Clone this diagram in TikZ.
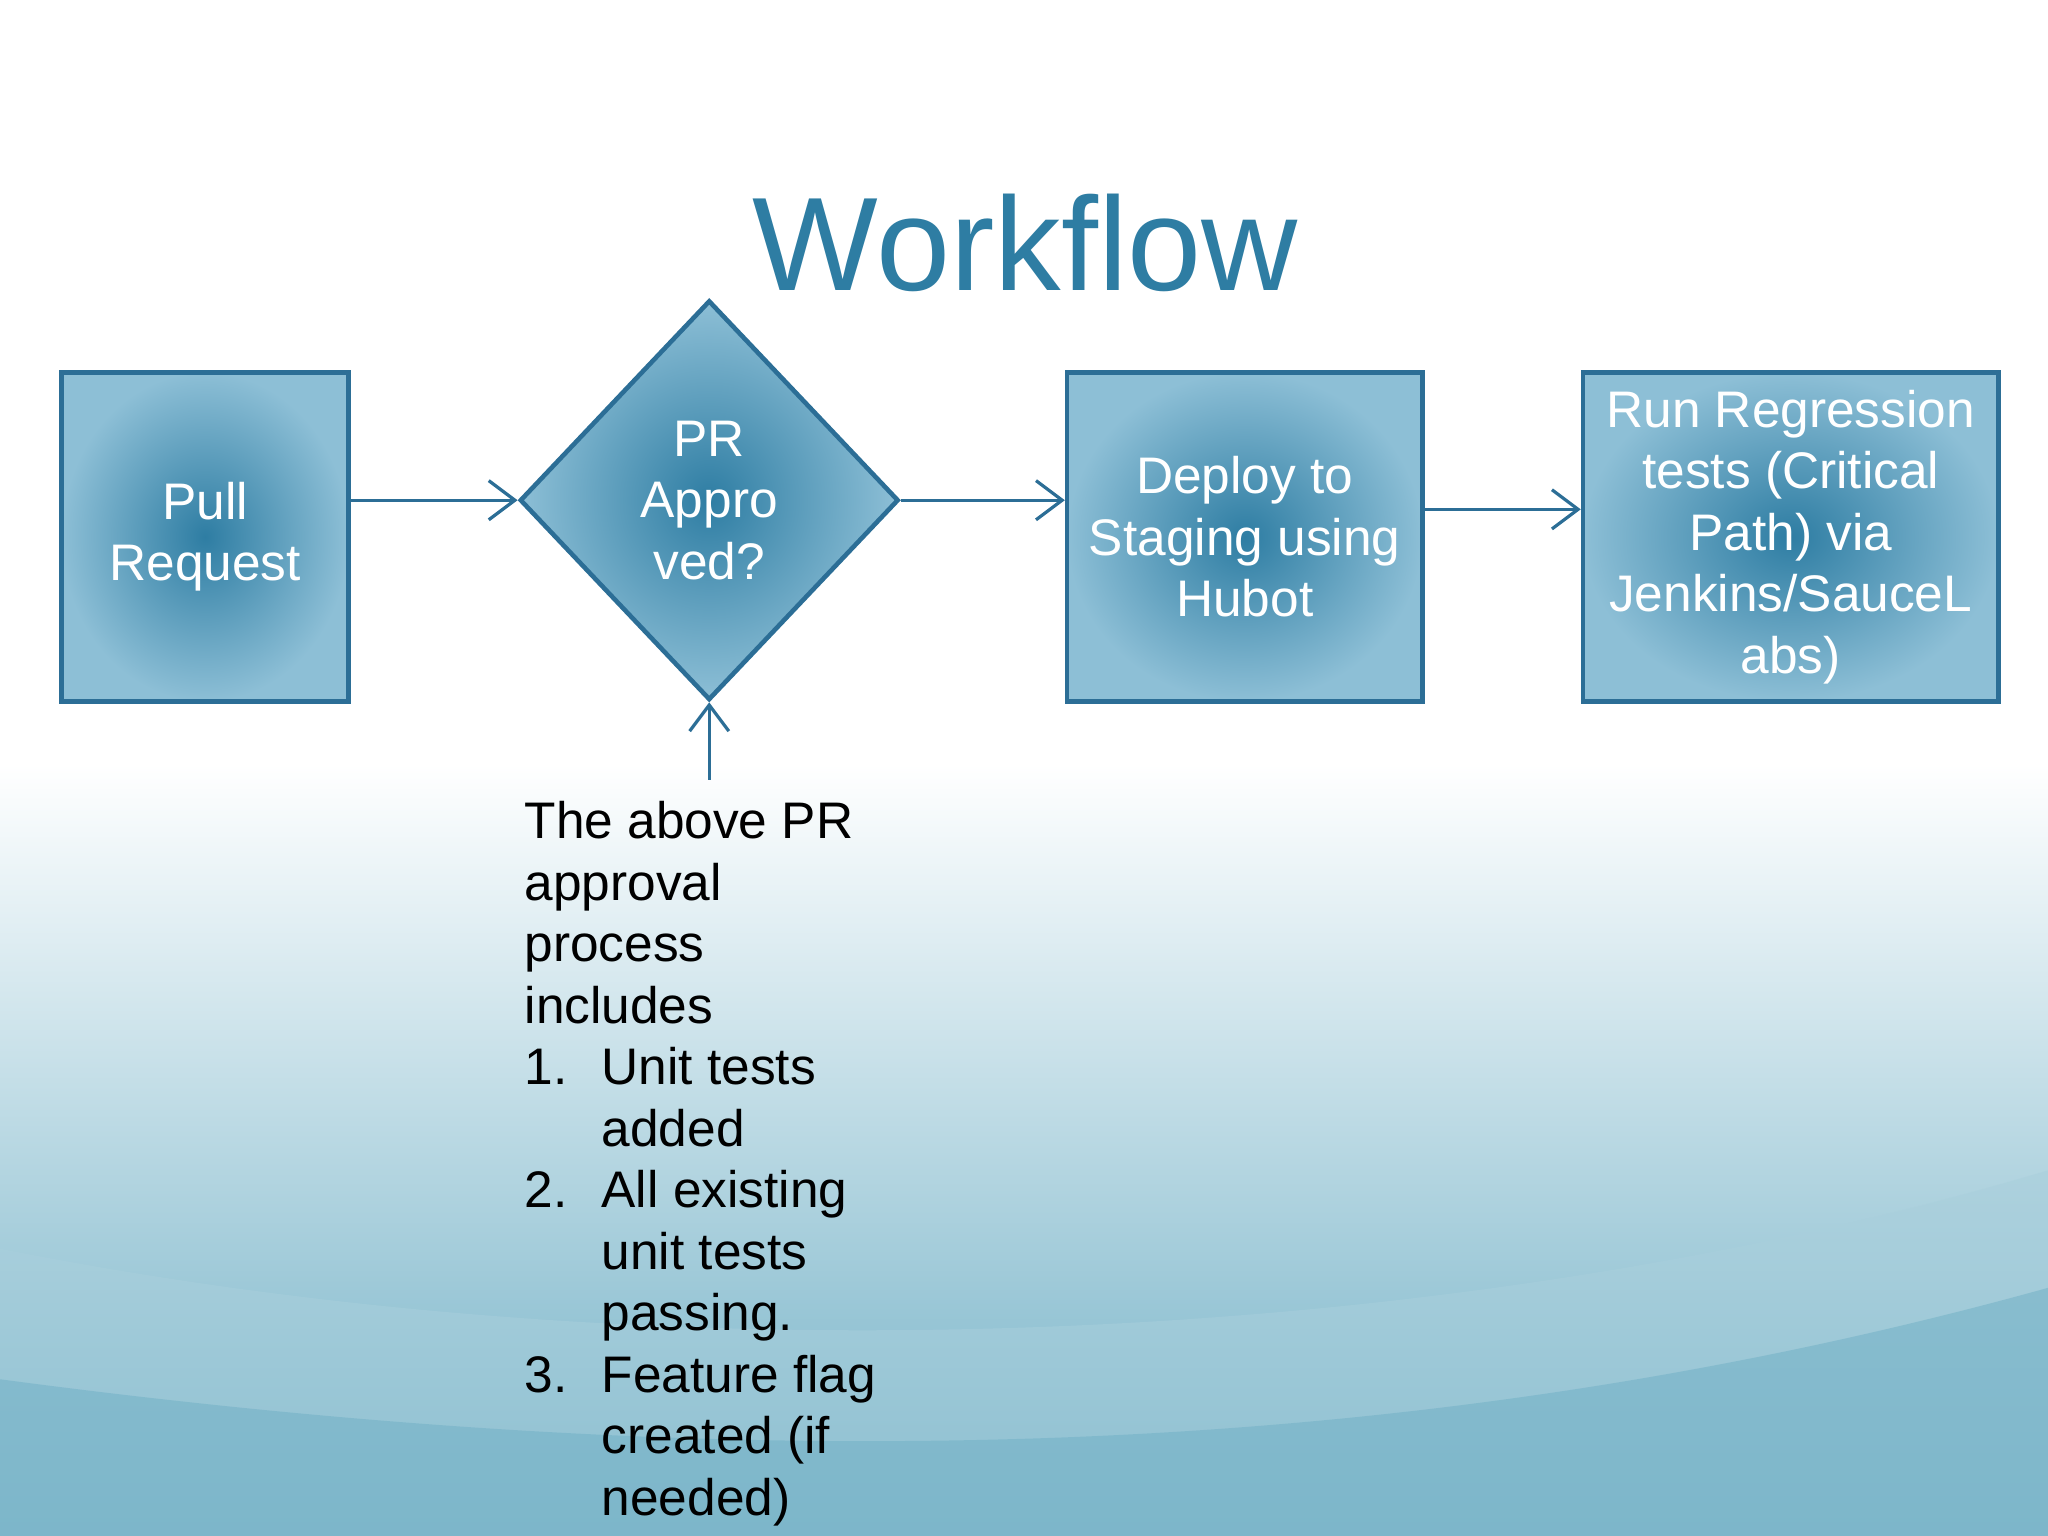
\documentclass[tikz,border=0pt]{standalone}
\usepackage{fontspec}
\setmainfont{Liberation Sans}
\usetikzlibrary{shapes.geometric,arrows.meta}
\definecolor{teal1}{HTML}{2E7DA3}
\definecolor{teal2}{HTML}{8DBFD6}
\definecolor{edge}{HTML}{2C6E96}
\definecolor{bgb}{HTML}{6FAFC5}
\begin{document}
\begin{tikzpicture}[
  box/.style={draw=edge, line width=1pt, inner color=teal1, outer color=teal2,
    text=white, align=center, font=\fontsize{11.2}{13.4}\selectfont, inner sep=0pt},
  link/.style={draw=edge, line width=0.7pt, -{Straight Barb[length=2mm,width=3mm]}}
]
\useasboundingbox (0,0) rectangle (15.68,11.76);
% background
\fill[white] (0,11.76) rectangle (15.68,5.9);
\shade[top color=white, bottom color=bgb] (0,0) rectangle (15.68,5.91);
\fill[bgb!60, opacity=0.5] (0,2.2) .. controls (5,1.2) and (11,1.4) .. (15.68,2.8) -- (15.68,0) -- (0,0) -- cycle;
\fill[bgb, opacity=0.5] (0,1.2) .. controls (6,0.4) and (11,0.6) .. (15.68,1.9) -- (15.68,0) -- (0,0) -- cycle;
% title
\node[text=teal1, font=\fontsize{29}{34}\selectfont] (title) at (7.85,9.9) {Workflow};
% nodes
\node[box, minimum width=2.2cm, minimum height=2.52cm] (pr) at (1.57,7.65) {Pull\\Request};
\node[box, diamond, minimum width=2.9cm, minimum height=3.06cm] (ok) at (5.43,7.93) {PR\\Appro\\ved?};
\node[box, minimum width=2.72cm, minimum height=2.52cm] (dep) at (9.53,7.65) {Deploy to\\Staging using\\Hubot};
\node[box, minimum width=3.18cm, minimum height=2.52cm] (run) at (13.71,7.65) {Run Regression\\tests (Critical\\Path) via\\Jenkins/SauceL\\abs)};
\node[anchor=north west, align=left, inner sep=0pt, font=\fontsize{11.2}{13.4}\selectfont] (note) at (4.01,5.63)
{The above PR\\approval\\process\\includes\\
\makebox[0.59cm][l]{1.}Unit tests\\\makebox[0.59cm][l]{}added\\
\makebox[0.59cm][l]{2.}All existing\\\makebox[0.59cm][l]{}unit tests\\\makebox[0.59cm][l]{}passing.\\
\makebox[0.59cm][l]{3.}Feature flag\\\makebox[0.59cm][l]{}created (if\\\makebox[0.59cm][l]{}needed)};
\coordinate (nt) at (5.43,5.79);
% connectors
\draw[link] (pr.east |- ok.west) -- (ok.west);
\draw[link] (ok.east) -- (dep.west |- ok.east);
\draw[link] (dep.east |- 0,7.86) -- (run.west |- 0,7.86);
\draw[link] (nt) -- (ok.south);
\end{tikzpicture}
\end{document}
